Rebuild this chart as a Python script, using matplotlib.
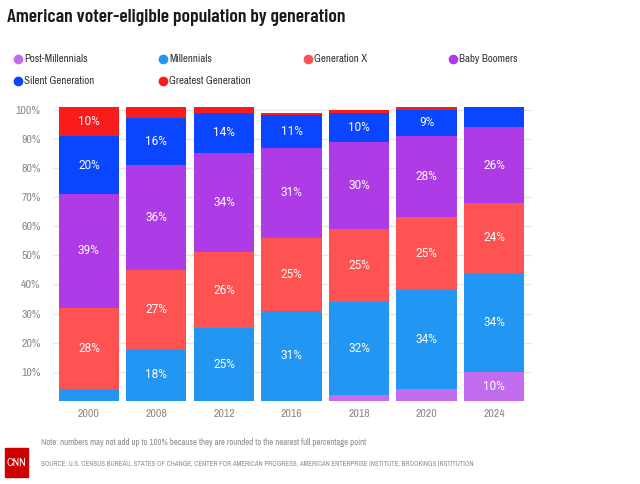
import matplotlib
matplotlib.use("Agg")
import matplotlib.pyplot as plt
import numpy as np
from matplotlib.lines import Line2D
from matplotlib.patches import Rectangle

years = ["2000", "2008", "2012", "2016", "2018", "2020", "2024"]
generations = ["Post-Millennials", "Millennials", "Generation X",
               "Baby Boomers", "Silent Generation", "Greatest Generation"]
post_millennials = [0, 0, 0, 0, 2, 4, 10]
millennials = [4, 18, 25, 31, 32, 34, 34]
generation_x = [28, 27, 26, 25, 25, 25, 24]
baby_boomers = [39, 36, 34, 31, 30, 28, 26]
silent = [20, 16, 14, 11, 10, 9, 7]
greatest = [10, 4, 2, 1, 1, 1, 0]
series = [post_millennials, millennials, generation_x, baby_boomers, silent, greatest]
colors = ["#c46cf0", "#2196f3", "#ff5252", "#ae3ce6", "#0a45ff", "#fa1c1c"]

narrow = ["Archivo Narrow", "DejaVu Sans"]
roboto = ["Roboto", "DejaVu Sans"]
plt.rcParams["font.family"] = narrow

fig = plt.figure(figsize=(6.4, 4.84), dpi=100)
ax = fig.add_axes([0.083, 0.1715, 0.748, 0.614])

x = np.arange(len(years))
bottom = np.zeros(len(years))
for vals, col in zip(series, colors):
    vals = np.array(vals, dtype=float)
    ax.bar(x, vals, 0.89, bottom=bottom, color=col, zorder=2)
    for xi, v, b in zip(x, vals, bottom):
        if v >= 8:
            ax.text(xi, b + v / 2, f"{int(v)}%", ha="center", va="center",
                    color="white", fontsize=8.5, family=roboto, zorder=3)
    bottom += vals

ax.set_xlim(-0.53, 6.56)
ax.set_ylim(0, 102)
ax.set_xticks(x)
ax.set_xticklabels(years)
ax.set_yticks(range(10, 101, 10))
ax.set_yticklabels([f"{v}%" for v in range(10, 101, 10)])
ax.tick_params(length=0, colors="#8a8a8a", labelsize=8.5)
ax.tick_params(axis="y", pad=9)
ax.tick_params(axis="x", pad=6)
ax.grid(axis="y", color="#e6e6e6", linewidth=1, zorder=0)
for s in ax.spines.values():
    s.set_visible(False)

fig.text(0.011, 0.963, "American voter-eligible population by generation",
         fontsize=14, fontweight=600, family=["Barlow Condensed", "DejaVu Sans"],
         color="#1a1a1a", va="center")

leg_x = [0.028, 0.255, 0.481, 0.708]
leg_y = [0.878, 0.833]
for i, (name, col) in enumerate(zip(generations, colors)):
    cx = leg_x[i % 4]
    cy = leg_y[i // 4]
    fig.add_artist(Line2D([cx], [cy], marker="o", markersize=6, color=col,
                          linestyle="none", transform=fig.transFigure))
    fig.text(cx + 0.0095, cy, name, fontsize=7.8, color="#333333", va="center")

fig.add_artist(Rectangle((0.008, 0.014), 0.036, 0.06, color="#cc0000",
                         transform=fig.transFigure))
fig.text(0.026, 0.044, "CNN", color="white", fontsize=8, fontweight="bold",
         ha="center", va="center")
fig.text(0.064, 0.085, "Note: numbers may not add up to 100% because they are rounded to the nearest full percentage point",
         fontsize=6.3, color="#8a8a8a", va="center")
fig.text(0.064, 0.044, "SOURCE: U.S. CENSUS BUREAU, STATES OF CHANGE, CENTER FOR AMERICAN PROGRESS, AMERICAN ENTERPRISE INSTITUTE, BROOKINGS INSTITUTION",
         fontsize=5.0, color="#8a8a8a", va="center")

fig.savefig("out.png", dpi=100)
